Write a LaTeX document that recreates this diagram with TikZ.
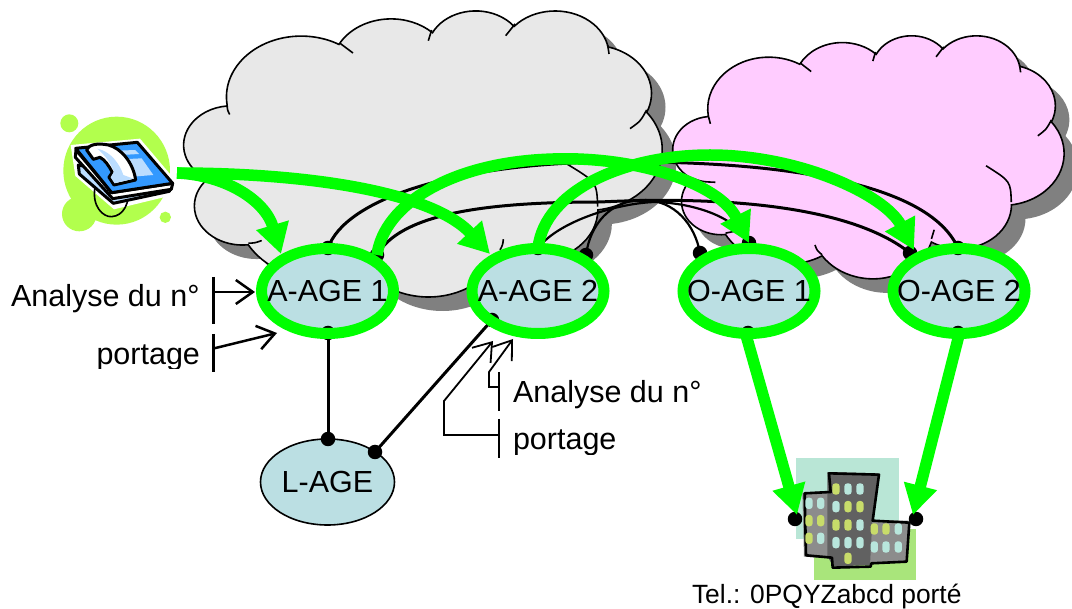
\documentclass[tikz,border=0pt]{standalone}
\usepackage{fontspec}
\setmainfont{Liberation Sans}
\usetikzlibrary{shapes.geometric,arrows.meta}
\definecolor{cloudgray}{HTML}{E8E8E8}
\definecolor{cloudpink}{HTML}{FFCCFF}
\definecolor{shadowgray}{HTML}{808080}
\definecolor{agefill}{HTML}{BBDFE3}
\definecolor{lime}{HTML}{B2FF4D}
\definecolor{phoneblue}{HTML}{3399FF}
\definecolor{phonelight}{HTML}{BBDDFF}
\definecolor{winolive}{HTML}{C8DC6A}
\definecolor{winteal}{HTML}{B8E6DC}
\definecolor{bgteal}{HTML}{B9E6D6}
\definecolor{bggreen}{HTML}{A9E57B}
\newcommand\oarc[4]{\pgfextra{%
 \pgfmathsetmacro\ta{atan2(#1*sin(#3),#2*cos(#3))}%
 \pgfmathsetmacro\te{atan2(#1*sin(#3+#4),#2*cos(#3+#4))}%
 \pgfmathsetmacro\tdd{mod(\te-\ta+720,360)}%
 } arc[start angle=\ta,delta angle=\tdd,x radius=#1,y radius=#2]}
\newcommand\cloudoutline{(390,1437)
 \oarc{675.3}{919.0}{-190.49}{123.78}
 \oarc{533.3}{726.7}{-144.10}{89.945}
 \oarc{436.5}{594.5}{-145.81}{99.72}
 \oarc{485.7}{659.5}{-130.99}{117.24}
 \oarc{533.3}{727.3}{-78.71}{109.03}
 \oarc{677.5}{922.0}{-46.27}{130.27}
 \oarc{578.5}{786.7}{0.625}{114.03}
 \oarc{675.2}{921.5}{22.45}{115.17}
 \oarc{772.0}{1054.3}{66.24}{75.71}
 \oarc{436.0}{591.8}{-274.94}{146.74}
 \oarc{434.5}{594.5}{-246.83}{152.52} -- cycle}
\newcommand\cloudtails{%
 (390,1437) .. controls (392,1510) .. (413,1579)
 (1410,503) .. controls (1470,565) .. (1527,650)
 (2238,302) .. controls (2215,380) .. (2208,464)
 (2992,211) .. controls (2945,290) .. (2907,388)
 (3829,528) .. controls (3838,600) .. (3841,664)
 (4181,1510) .. controls (4125,1680) .. (4031,1792)
 (3738,2970) .. controls (3730,2600) .. (3459,2325)
 (2886,3463) .. controls (2880,3550) .. (2856,3624)
 (702,3483) .. controls (640,3520) .. (581,3523)
 (177,2524) .. controls (320,2610) .. (469,2618)
 (1648,3909) .. controls (1590,3830) .. (1569,3733)}
\tikzset{
 x=1pt,y=-1pt,
 txt/.style={font=\fontsize{30.5}{36}\selectfont,inner sep=0pt,outer sep=0pt},
 ageshape/.style={ellipse,minimum width=132pt,minimum height=85pt,inner sep=0pt,outer sep=0pt},
 agering/.style={ageshape,draw=green,line width=11pt,label={[txt]center:#1}},
 dotn/.style={circle,fill=black,minimum size=14.5pt,inner sep=0pt,outer sep=0pt},
 blk/.style={draw=black,line width=3pt},
 blkthin/.style={draw=black,line width=2.2pt},
 grn/.style={draw=green,line width=11.5pt,-{Triangle[length=30pt,width=32pt]}},
 bar/.style={draw=black,line width=2.5pt},
 barthin/.style={draw=black,line width=1.8pt},
 barb/.style={-{Straight Barb[length=17pt,width=24pt]}},
 cloudline/.style={draw=black,line width=1.6pt},
 phoneline/.style={draw=black,line width=3pt,line join=round},
}
\begin{document}
\begin{tikzpicture}
\useasboundingbox (0,0) rectangle (1072,609);
\fill[white] (0,0) rectangle (1072,609);
% grey cloud
\begin{scope}[shift={(198,24)},x=0.11065pt,y=-0.0662pt]
 \fill[shadowgray] \cloudoutline;
\end{scope}
\begin{scope}[shift={(184,10)},x=0.11065pt,y=-0.0662pt]
 \path[fill=cloudgray,cloudline] \cloudoutline;
 \path[cloudline] \cloudtails;
\end{scope}
% pink cloud
\begin{scope}[shift={(687,49)},x=0.0905pt,y=-0.05625pt]
 \fill[shadowgray] \cloudoutline;
\end{scope}
\begin{scope}[shift={(673,35)},x=0.0905pt,y=-0.05625pt]
 \path[fill=cloudpink,cloudline] \cloudoutline;
 \path[cloudline] \cloudtails;
\end{scope}
% phone
\begin{scope}[shift={(40,100)},x=0.3333pt,y=-0.3333pt]
 \fill[lime] (230,212) circle[x radius=160,y radius=162];
 \fill[lime] (88,70) circle[radius=27];
 \fill[lime] (118,342) circle[radius=52];
 \fill[lime] (376,352) circle[radius=17];
 \fill[white,line join=round] (92,135) -- (300,116) -- (412,248) -- (404,284) -- (222,328) -- (106,228) -- cycle;
 \draw[black,line width=1.6pt] (165,262) .. controls (155,320) and (190,352) .. (215,350) .. controls (250,348) and (272,310) .. (264,255);
 \path[fill=phonelight,phoneline] (115,195) -- (118,222) -- (220,310) -- (388,274) -- (396,255) -- cycle;
 \path[fill=white,phoneline] (108,150) -- (106,172) -- (218,296) -- (394,268) -- (398,250) -- (215,278) -- cycle;
 \path[fill=phoneblue,phoneline] (107,145) -- (292,127) -- (398,250) -- (215,278) -- cycle;
 \fill[phonelight] (245,178) -- (305,175) -- (340,225) -- (280,230) -- cycle;
 \fill[phonelight] (235,152) -- (285,150) -- (297,162) -- (245,165) -- cycle;
 \path[fill=white,phoneline] (140,150) .. controls (145,135) and (170,128) .. (205,135) .. controls (245,145) and (280,190) .. (287,240) -- (222,255) -- (207,232) -- (217,217) .. controls (205,195) and (195,180) .. (180,172) -- (160,178) -- cycle;
 \fill[phonelight] (172,146) .. controls (215,155) and (240,195) .. (250,225) -- (280,236) -- (224,250) -- (212,232) -- (222,215) .. controls (212,190) and (195,165) .. (172,146) -- cycle;
\end{scope}
% building
\begin{scope}[shift={(770,450)},x=0.3333pt,y=-0.3333pt]
 \fill[bgteal] (78,24) rectangle (387,267);
 \fill[bggreen] (132,238) rectangle (438,390);
 \fill[black!45] (97,128) -- (182,122) -- (182,325) -- (102,320) -- cycle;
 \fill[black!45] (300,210) -- (416,212) -- (410,335) -- (300,338) -- cycle;
 \fill[black!62] (172,66) -- (325,70) -- (307,212) -- (300,345) -- (190,350) -- (172,318) -- cycle;
 \draw[black,line width=2.6pt,line join=round] (177,70) -- (327,74) -- (308,212) -- (418,218) -- (410,335) -- (304,340) -- (302,350) -- (188,353) -- (186,323) -- (108,316) -- (104,130) -- (182,126) -- cycle;
 \foreach \x/\y/\c in {198/117/winolive,234/117/winteal,270/117/winteal,
  198/170/winteal,234/170/winolive,270/170/winolive,
  198/225/winolive,234/225/winolive,270/225/winteal,
  198/278/winteal,234/278/winteal,270/278/winteal,234/325/winolive,
  117/160/winteal,152/160/winteal,117/212/winolive,152/212/winolive,117/265/winolive,152/265/winteal,
  313/237/winolive,348/237/winolive,385/237/winteal,313/291/winteal,348/291/winteal,385/291/winteal}
  \fill[\c,rounded corners=3pt] (\x-11,\y-17) rectangle (\x+11,\y+17);
\end{scope}
% node fills
\fill[agefill] (327.5,291) ellipse[x radius=66,y radius=42.5];
\fill[agefill] (538,291) ellipse[x radius=66,y radius=42.5];
\fill[agefill] (749,291) ellipse[x radius=66,y radius=42.5];
\fill[agefill] (959,291) ellipse[x radius=66,y radius=42.5];
\node[ageshape,minimum width=134pt,minimum height=86pt,draw=black,fill=agefill,line width=1.6pt,label={[txt]center:L-AGE}] (lage) at (327.5,482) {};
% dots
\node[dotn] (a1top) at (328,248) {};
\node[dotn] (a1right) at (377,255) {};
\node[dotn] (a1bot) at (328,333) {};
\node[dotn] (a2top) at (538,248) {};
\node[dotn] (a2right) at (586,255) {};
\node[dotn] (a2low) at (492,320) {};
\node[dotn] (o1left) at (700,253) {};
\node[dotn] (o1top) at (749,243) {};
\node[dotn] (o1bot) at (748,333) {};
\node[dotn] (o2left) at (910,253) {};
\node[dotn] (o2top) at (958,248) {};
\node[dotn] (o2bot) at (958,333) {};
\node[dotn] (ltop) at (328,439) {};
\node[dotn] (lright) at (375,452) {};
\node[dotn] (bleft) at (795,519) {};
\node[dotn] (bright) at (916,519) {};
% black links
\draw[blk] (a1top.center) .. controls (345,200) and (450,165) .. (600,162) .. controls (750,160) and (925,175) .. (o2top.center);
\draw[blk] (a1right.center) .. controls (400,215) and (480,202) .. (600,202) .. controls (720,196) and (850,205) .. (o2left.center);
\draw[blkthin] (a2top.center) .. controls (560,220) and (620,203) .. (655,202) .. controls (690,203) and (735,215) .. (o1top.center);
\draw[blkthin] (a2right.center) .. controls (590,225) and (610,200) .. (643,200) .. controls (675,200) and (695,225) .. (o1left.center);
\draw[blk] (a1bot.center) -- (ltop.center);
\draw[blk] (lright.center) -- (a2low.center);
% rings with labels
\node[agering=A-AGE 1] (a1) at (327.5,291) {};
\node[agering=A-AGE 2] (a2) at (538,291) {};
\node[agering=O-AGE 1] (o1) at (749,291) {};
\node[agering=O-AGE 2] (o2) at (959,291) {};
% green flows
\coordinate (phone) at (177,173);
\coordinate (tipa1) at (281,254);
\coordinate (tipa2) at (490,254);
\coordinate (tipo1) at (749,243);
\coordinate (tipo2) at (914,250);
\coordinate (tipb1) at (797,515);
\coordinate (tipb2) at (913,515);
\coordinate (o1out) at (746,335);
\coordinate (o2out) at (959,335);
\draw[grn] (phone) .. controls (225,175) and (265,200) .. (tipa1);
\draw[grn] (phone) .. controls (300,173) and (430,190) .. (tipa2);
\draw[grn] (a1right.center) .. controls (384,205) and (450,162) .. (553,159) .. controls (640,156) and (720,185) .. (tipo1);
\draw[grn] (a2top.center) .. controls (545,190) and (625,155) .. (710,155) .. controls (800,155) and (885,195) .. (tipo2);
\draw[grn] (o1out) -- (tipb1);
\draw[grn] (o2out) -- (tipb2);
% brackets
\coordinate (bar1a) at (213.5,277);
\coordinate (bar1b) at (213.5,324);
\coordinate (bar2a) at (213.5,334);
\coordinate (bar2b) at (213.5,372);
\coordinate (bar3a) at (499,372);
\coordinate (bar3b) at (499,411);
\coordinate (bar4a) at (499,419);
\coordinate (bar4b) at (499,458);
\draw[bar] (bar1a) -- (bar1b);
\draw[bar] (bar2a) -- (bar2b);
\draw[barthin] (bar3a) -- (bar3b);
\draw[barthin] (bar4a) -- (bar4b);
\coordinate (m1) at (213.5,292);
\coordinate (m2) at (213.5,348.5);
\coordinate (m3) at (499,387);
\coordinate (m4) at (499,435);
\coordinate (t1) at (255,292);
\coordinate (t2) at (277,333);
\coordinate (t3) at (513,339);
\coordinate (t4) at (493,341);
\draw[bar,barb] (m1) -- (t1);
\draw[bar,barb] (m2) -- (t2);
\draw[barthin,barb] (m3) -- (489,387) -- (489,372) -- (t3);
\draw[barthin,barb] (m4) -- (444,435) -- (444,401) -- (t4);
% texts
\node[txt,anchor=base west] (an1) at (11,307) {Analyse du n°};
\begin{scope}
 \clip (90,335) rectangle (205,369);
 \node[txt,anchor=base west] (po1) at (96.5,365) {portage};
\end{scope}
\node[txt,anchor=base west] (an2) at (513,403) {Analyse du n°};
\begin{scope}
 \clip (505,420) rectangle (625,455);
 \node[txt,anchor=base west] (po2) at (513,450) {portage};
\end{scope}
\node[txt,font=\fontsize{26.4}{30}\selectfont,anchor=base west] (tel) at (692,604) {Tel.: 0PQYZabcd porté};
\end{tikzpicture}
\end{document}
